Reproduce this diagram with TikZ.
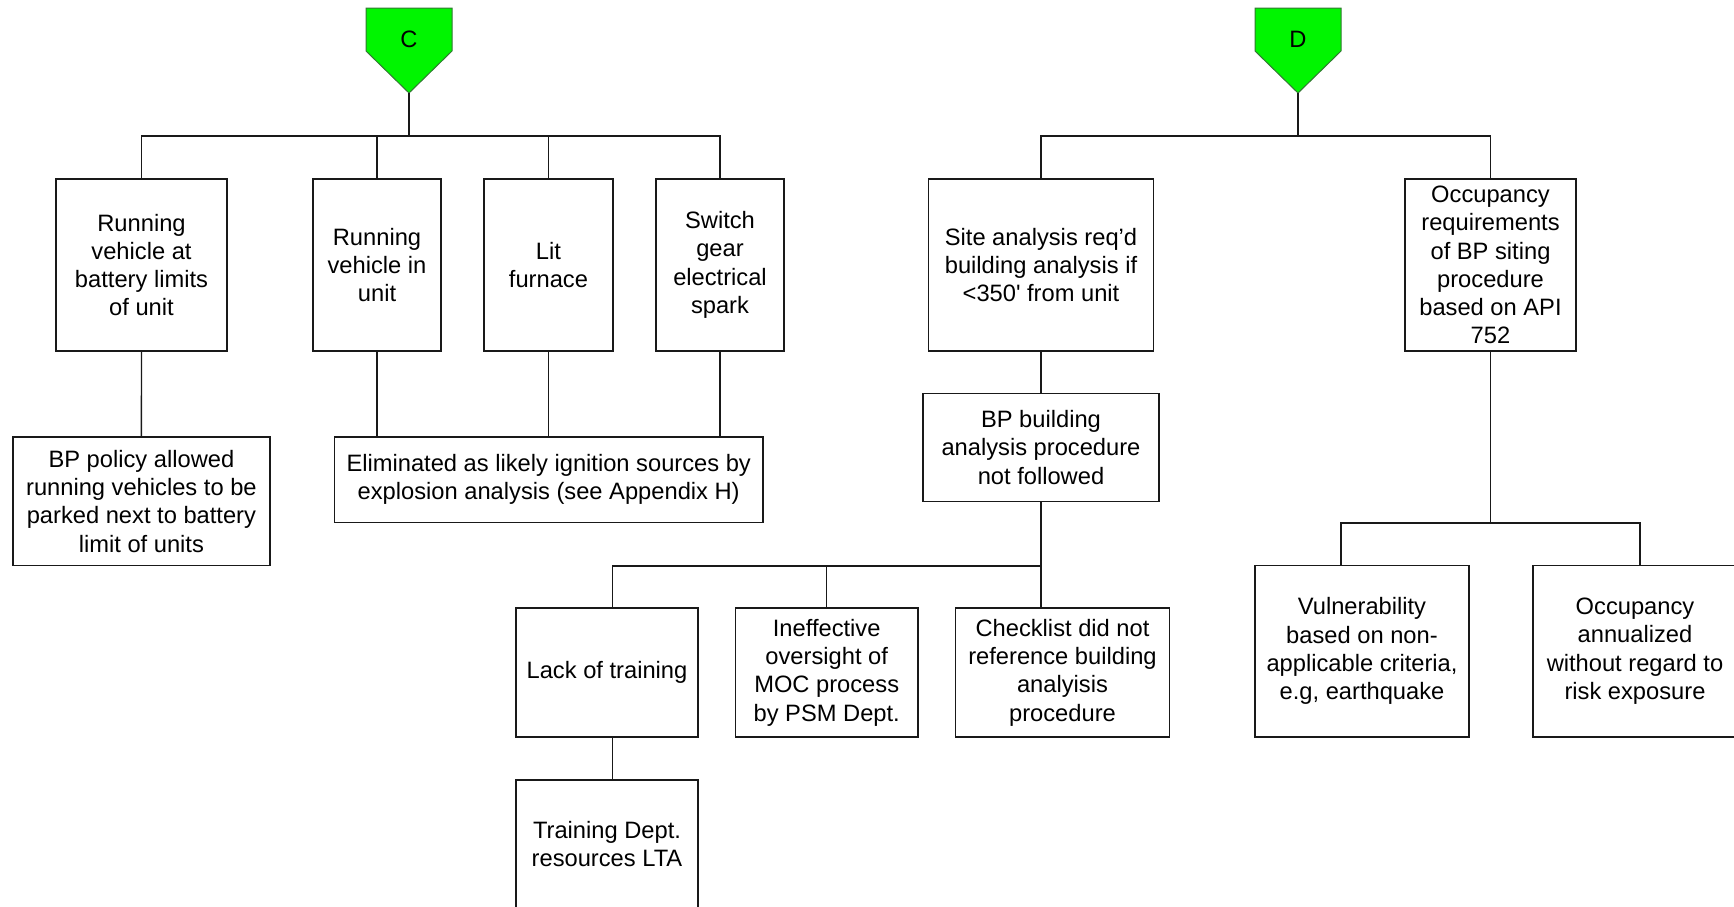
\documentclass[tikz,border=0pt]{standalone}
\usepackage{fontspec}
\setmainfont{Liberation Sans}
\usetikzlibrary{calc}
\definecolor{pgreen}{RGB}{0,245,0}
\definecolor{pgreenline}{RGB}{50,120,50}
\definecolor{ink}{RGB}{25,25,25}
\begin{document}
\begin{tikzpicture}[x=0.5pt,y=-0.5pt,
  box/.style={draw=ink, line width=0.75pt, align=center, inner sep=0pt,
    font=\fontsize{11.85}{14.15}\selectfont},
  conn/.style={draw=ink, line width=0.7pt},
  gate/.style={draw=pgreenline, fill=pgreen, line width=0.5pt},
  gatelabel/.style={inner sep=0pt, font=\fontsize{11.85}{14.15}\selectfont}]
\useasboundingbox (0,0) rectangle (1734,906);
\clip (0,0) rectangle (1734,906);

% ---------- gate C ----------
\path[gate] (366,8) -- (452,8) -- (452,51) -- (409,93) -- (366,51) -- cycle;
\node[gatelabel] (C) at (409,39) {C};
\coordinate (Ctip) at (409,93);

% ---------- gate D ----------
\path[gate] (1255,8) -- (1341,8) -- (1341,51) -- (1298,93) -- (1255,51) -- cycle;
\node[gatelabel] (D) at (1298,39) {D};
\coordinate (Dtip) at (1298,93);

% ---------- C branch boxes ----------
\node[box, minimum width=85.5pt, minimum height=86pt] (b1) at (141.5,265)
  {Running\\vehicle at\\battery limits\\of unit};
\node[box, minimum width=64pt, minimum height=86pt] (b2) at (377,265)
  {Running\\vehicle in\\unit};
\node[box, minimum width=64.5pt, minimum height=86pt] (b3) at (548.5,265)
  {Lit\\furnace};
\node[box, minimum width=64pt, minimum height=86pt] (b4) at (720,265)
  {Switch\\gear\\electrical\\spark};
\node[box, minimum width=128.65pt, minimum height=64.15pt] (pol) at (141.4,501.2)
  {BP policy allowed\\running vehicles to be\\parked next to battery\\limit of units};
\node[box, minimum width=214.25pt, minimum height=42.65pt] (elim) at (548.7,479.7)
  {Eliminated as likely ignition sources by\\explosion analysis (see Appendix H)};

% ---------- D branch boxes ----------
\node[box, minimum width=112.5pt, minimum height=86pt] (site) at (1041,265)
  {Site analysis req’d\\building analysis if\\<350\textquotesingle{} from unit};
\node[box, minimum width=85.5pt, minimum height=86pt] (occ) at (1490.5,265)
  {Occupancy\\requirements\\of BP siting\\procedure\\based on API\\752};
\node[box, minimum width=118.1pt, minimum height=53.8pt] (bpb) at (1041,447.5)
  {BP building\\analysis procedure\\not followed};
\node[box, minimum width=91pt, minimum height=64.5pt] (lack) at (607,672.5)
  {Lack of training};
\node[box, minimum width=91.3pt, minimum height=64.5pt] (ineff) at (826.7,672.5)
  {Ineffective\\oversight of\\MOC process\\by PSM Dept.};
\node[box, minimum width=107pt, minimum height=64.5pt] (check) at (1062.5,672.5)
  {Checklist did not\\reference building\\analyisis\\procedure};
\node[box, minimum width=91pt, minimum height=64pt] (train) at (607,844)
  {Training Dept.\\resources LTA};
\node[box, minimum width=107pt, minimum height=85.85pt] (vul) at (1362,651.2)
  {Vulnerability\\based on non-\\applicable criteria,\\e.g, earthquake};
\node[box, minimum width=102pt, minimum height=85.85pt] (ann) at (1635,651.2)
  {Occupancy\\annualized\\without regard to\\risk exposure};

% ---------- connectors C ----------
\draw[conn] (Ctip) -- ++(0,43) coordinate (busC);
\draw[conn] (b1.north) |- (busC) -| (b4.north);
\draw[conn] (b2.north) -- (b2.north |- busC);
\draw[conn] (b3.north) -- (b3.north |- busC);
\draw[conn] (b1.south) -- (pol.north);
\draw[conn] (b2.south) -- (b2.south |- elim.north);
\draw[conn] (b3.south) -- (b3.south |- elim.north);
\draw[conn] (b4.south) -- (b4.south |- elim.north);

% ---------- connectors D ----------
\draw[conn] (Dtip) -- ++(0,43) coordinate (busD);
\draw[conn] (site.north) |- (busD) -| (occ.north);
\draw[conn] (site.south) -- (bpb.north);
\draw[conn] (bpb.south) -- ++(0,64) coordinate (busB);
\draw[conn] ([xshift=2.85pt]lack.north) |- (busB);
\draw[conn] (busB) -- (busB |- check.north);
\draw[conn] (ineff.north) -- (ineff.north |- busB);
\draw[conn] ([xshift=2.85pt]lack.south) -- ([xshift=2.85pt]train.north);
\draw[conn] (occ.south) -- ++(0,171.3) coordinate (busO);
\draw[conn] ([xshift=-10.5pt]vul.north) |- (busO) -| ([xshift=2.5pt]ann.north);
\end{tikzpicture}
\end{document}
